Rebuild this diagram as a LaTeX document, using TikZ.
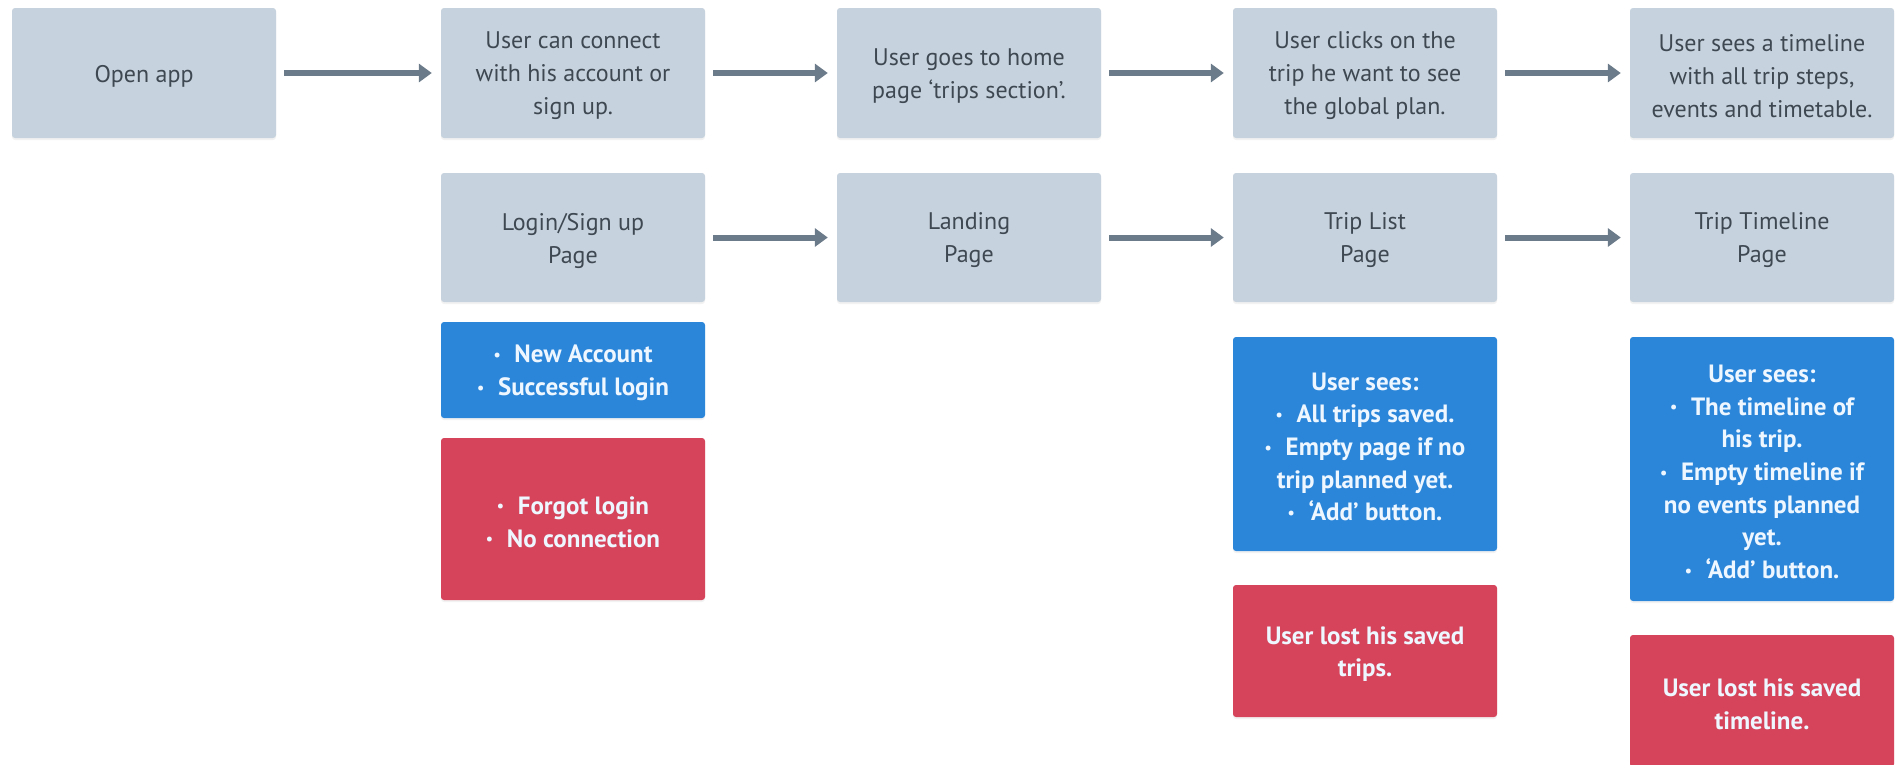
\documentclass[tikz,border=0pt]{standalone}
\usepackage{fontspec}
\setmainfont{PT Sans}
\usetikzlibrary{arrows.meta,shadows}
\definecolor{boxgray}{HTML}{C6D2DD}
\definecolor{txtgray}{HTML}{3E4852}
\definecolor{boxblue}{HTML}{2B86DA}
\definecolor{boxred}{HTML}{D5445A}
\definecolor{arrowgray}{HTML}{6C7B8A}
\definecolor{lighttxt}{HTML}{EEF6FF}
\newcommand\blt{{\fontsize{16}{16}\selectfont\raisebox{0.3ex}{•}}\hspace{0.55em}}
\newcommand\card[5]{%
  \node[#1box, minimum height=#4] (#2) at (#3) {};
  \node[#1text] (#2-t) at ([yshift=-3pt]#2.center) {#5};}
\begin{document}
\begin{tikzpicture}[x=1pt,y=-1pt,
  base/.style={rounded corners=3pt, minimum width=264pt, inner sep=0pt,
    drop shadow={opacity=0.10, shadow xshift=0pt, shadow yshift=-2pt}},
  stepbox/.style={base, fill=boxgray},
  okbox/.style={base, fill=boxblue},
  errbox/.style={base, fill=boxred},
  steptext/.style={inner sep=0pt, align=center, text=txtgray, font=\fontsize{24}{33}\selectfont},
  oktext/.style={inner sep=0pt, align=center, text=lighttxt, font=\fontsize{25}{32.7}\selectfont\bfseries},
  errtext/.style={oktext},
  flow/.style={draw=arrowgray, line width=6pt, -{Triangle[length=13pt,width=18pt]}, shorten <=8pt, shorten >=9pt}]
\useasboundingbox (0,0) rectangle (1896,764);
\clip (0,0) rectangle (1896,764);
\fill[white] (0,0) rectangle (1896,764);
% row 1
\card{step}{open}{144,73}{130pt}{Open app}
\card{step}{connect}{573,73}{130pt}{User can connect\\with his account or\\sign up.}
\card{step}{home}{969,73}{130pt}{User goes to home\\page ‘trips section’.}
\card{step}{clicks}{1365,73}{130pt}{User clicks on the\\trip he want to see\\the global plan.}
\card{step}{sees}{1762,73}{130pt}{User sees a timeline\\with all trip steps,\\events and timetable.}
% row 2
\card{step}{login}{573,237.5}{129pt}{Login/Sign up\\Page}
\card{step}{landing}{969,237.5}{129pt}{Landing\\Page}
\card{step}{triplist}{1365,237.5}{129pt}{Trip List\\Page}
\card{step}{timeline}{1762,237.5}{129pt}{Trip Timeline\\Page}
% outcomes
\card{ok}{okA}{573,370}{96pt}{\blt New Account\\\blt Successful login}
\card{err}{errA}{573,519}{162pt}{\blt Forgot login\\\blt No connection}
\card{ok}{okB}{1365,444}{214pt}{User sees:\\\blt All trips saved.\\\blt Empty page if no\\trip planned yet.\\\blt ‘Add’ button.}
\card{err}{errB}{1365,651}{132pt}{User lost his saved\\trips.}
\card{ok}{okC}{1762,469}{264pt}{User sees:\\\blt The timeline of\\his trip.\\\blt Empty timeline if\\no events planned\\yet.\\\blt ‘Add’ button.}
\card{err}{errC}{1762,701}{132pt}{User lost his saved\\timeline.}
% connectors
\draw[flow] (open) -- (connect);
\draw[flow] (connect) -- (home);
\draw[flow] (home) -- (clicks);
\draw[flow] (clicks) -- (sees);
\draw[flow] (login) -- (landing);
\draw[flow] (landing) -- (triplist);
\draw[flow] (triplist) -- (timeline);
\end{tikzpicture}
\end{document}
